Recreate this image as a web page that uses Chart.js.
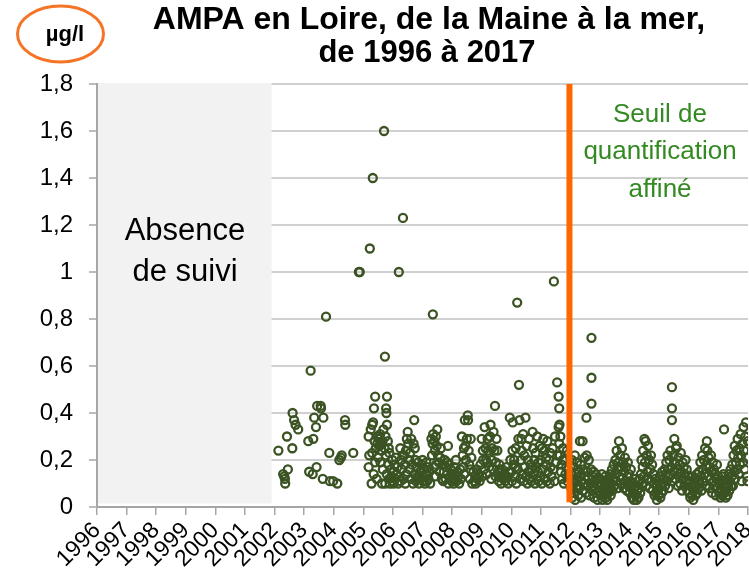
<!DOCTYPE html>
<html lang="fr">
<head>
<meta charset="utf-8">
<title>AMPA en Loire, de la Maine à la mer, de 1996 à 2017</title>
<script src="https://cdn.jsdelivr.net/npm/chart.js@4.4.1/dist/chart.umd.min.js"></script>
<style>
  html, body { margin: 0; padding: 0; background: #ffffff; }
  #wrap { width: 749px; height: 574px; }
  canvas { display: block; }
</style>
</head>
<body>
<div id="wrap"><canvas id="chart" width="749" height="574"></canvas></div>
<script>
// AMPA concentrations (µg/l) in the Loire between the Maine and the sea.
// Each sample is [date as decimal year, concentration].
const samples2002to2005 = [
  [2002.13,0.24],[2002.29,0.14],[2002.33,0.13],[2002.35,0.12],[2002.36,0.10],[2002.45,0.16],
  [2002.42,0.30],[2002.60,0.25],[2002.61,0.40],[2002.66,0.37],[2002.71,0.35],[2002.80,0.33],
  [2003.14,0.28],[2003.17,0.15],[2003.22,0.58],[2003.29,0.14],[2003.31,0.29],[2003.34,0.38],
  [2003.40,0.34],[2003.42,0.17],[2003.44,0.43],[2003.56,0.43],[2003.57,0.42],[2003.63,0.12],
  [2003.65,0.38],[2003.74,0.81],[2003.85,0.23],[2003.87,0.11],[2003.98,0.11],[2004.12,0.10],
  [2004.19,0.20],[2004.24,0.21],[2004.27,0.22],[2004.38,0.37],[2004.39,0.35],[2004.66,0.23],
  [2004.85,1.0],[2004.88,1.0],[2005.22,1.1],[2005.32,1.4]
];

const samples2005to2008 = [
  [2005.18,0.30],[2005.20,0.22],[2005.18,0.17],[2005.25,0.33],[2005.28,0.10],[2005.30,0.35],[2005.30,0.23],
  [2005.33,0.36],[2005.36,0.42],[2005.40,0.47],[2005.38,0.28],[2005.42,0.25],[2005.35,0.14],[2005.40,0.19],
  [2005.45,0.12],[2005.47,0.27],[2005.48,0.30],[2005.50,0.21],
  [2005.52,0.29],[2005.55,0.26],[2005.57,0.31],[2005.60,0.27],[2005.62,0.24],[2005.65,0.28],[2005.58,0.19],
  [2005.63,0.10],[2005.66,0.16],[2005.68,0.33],[2005.70,1.6],[2005.73,0.64],[2005.72,0.25],[2005.75,0.30],
  [2005.77,0.42],[2005.78,0.40],[2005.76,0.22],[2005.80,0.47],[2005.80,0.35],[2005.74,0.10],[2005.79,0.14],
  [2005.83,0.28],[2005.85,0.18],[2005.86,0.25],[2005.87,0.12],[2005.90,0.10],[2005.93,0.16],[2005.95,0.13],
  [2005.98,0.20],[2006.00,0.11],[2006.03,0.15],[2006.05,0.18],[2006.08,0.12],[2005.88,0.23],[2006.02,0.10],
  [2006.10,0.21],[2006.12,0.14],[2006.15,0.17],[2006.18,0.10],[2006.20,1.0],[2006.22,0.13],[2006.25,0.25],
  [2006.26,0.11],[2006.28,0.20],[2006.30,0.16],[2006.34,1.23],[2006.33,0.22],[2006.36,0.12],[2006.38,0.22],
  [2006.40,0.18],[2006.42,0.10],[2006.44,0.24],[2006.45,0.14],[2006.47,0.29],[2006.50,0.32],
  [2006.52,0.27],[2006.55,0.20],[2006.57,0.16],[2006.58,0.23],[2006.60,0.12],[2006.62,0.29],[2006.65,0.18],
  [2006.68,0.10],[2006.70,0.27],[2006.72,0.37],[2006.73,0.14],[2006.74,0.25],[2006.76,0.20],[2006.78,0.11],
  [2006.80,0.17],[2006.83,0.13],[2006.85,0.19],[2006.88,0.10],[2006.90,0.13],
  [2006.92,0.15],[2006.95,0.12],[2006.98,0.18],[2007.00,0.20],[2007.03,0.13],[2007.04,0.11],[2007.06,0.16],
  [2007.08,0.10],[2007.10,0.14],[2007.13,0.19],[2007.15,0.11],[2007.16,0.14],[2007.18,0.17],[2007.20,0.12],
  [2007.23,0.15],[2007.26,0.10],
  [2007.30,0.29],[2007.32,0.22],[2007.34,0.27],[2007.35,0.82],[2007.36,0.31],[2007.40,0.28],[2007.42,0.24],
  [2007.45,0.30],[2007.46,0.18],[2007.48,0.26],[2007.50,0.33],[2007.52,0.22],[2007.40,0.17],[2007.44,0.13],
  [2007.55,0.19],[2007.58,0.15],[2007.60,0.21],[2007.62,0.25],[2007.65,0.12],[2007.68,0.18],[2007.70,0.11],
  [2007.72,0.15],[2007.75,0.20],[2007.78,0.12],[2007.80,0.17],[2007.83,0.14],[2007.84,0.19],[2007.86,0.26],
  [2007.88,0.10],[2007.90,0.18],[2007.93,0.13],[2007.96,0.16],[2007.99,0.11],
  [2008.00,0.12],[2008.02,0.14],[2008.05,0.10],[2008.08,0.17],[2008.10,0.12],[2008.12,0.14],[2008.13,0.20],
  [2008.15,0.11],[2008.18,0.15],[2008.20,0.13],[2008.24,0.10],[2008.27,0.16]
];

const samples2008to2012 = [
  [2008.30,0.12],[2008.33,0.30],[2008.36,0.22],[2008.38,0.17],[2008.40,0.25],[2008.41,0.14],[2008.43,0.37],
  [2008.45,0.26],[2008.47,0.20],[2008.50,0.29],[2008.53,0.39],[2008.54,0.37],[2008.56,0.24],[2008.58,0.18],
  [2008.60,0.12],[2008.62,0.16],[2008.63,0.29],[2008.65,0.21],[2008.68,0.10],
  [2008.72,0.15],[2008.75,0.11],[2008.78,0.13],[2008.80,0.10],[2008.83,0.16],[2008.86,0.12],[2008.88,0.13],
  [2008.90,0.14],[2008.93,0.11],[2008.96,0.18],[2009.00,0.29],[2009.02,0.13],[2009.04,0.24],[2009.05,0.20],
  [2009.08,0.16],[2009.10,0.34],
  [2009.13,0.25],[2009.15,0.20],[2009.17,0.14],[2009.18,0.19],[2009.20,0.29],[2009.22,0.24],[2009.25,0.17],
  [2009.28,0.30],[2009.30,0.35],[2009.32,0.12],[2009.34,0.20],[2009.35,0.25],[2009.38,0.16],[2009.40,0.32],
  [2009.43,0.24],[2009.45,0.43],[2009.47,0.13],[2009.48,0.19],[2009.50,0.29],
  [2009.53,0.24],[2009.55,0.15],[2009.58,0.11],[2009.60,0.18],[2009.62,0.16],[2009.63,0.13],[2009.66,0.10],
  [2009.70,0.16],[2009.73,0.12],[2009.76,0.14],[2009.78,0.13],[2009.80,0.11],[2009.83,0.17],[2009.86,0.13],
  [2009.90,0.10],[2009.92,0.15],
  [2009.95,0.38],[2009.97,0.20],[2010.00,0.15],[2010.02,0.11],[2010.04,0.24],[2010.05,0.36],[2010.07,0.18],
  [2010.10,0.20],[2010.12,0.13],[2010.14,0.17],[2010.15,0.25],[2010.17,0.10],[2010.20,0.87],[2010.22,0.16],
  [2010.24,0.29],[2010.26,0.52],[2010.28,0.37],[2010.30,0.12],
  [2010.33,0.20],[2010.34,0.29],[2010.35,0.24],[2010.38,0.14],[2010.40,0.31],[2010.42,0.11],[2010.44,0.22],
  [2010.45,0.17],[2010.48,0.38],[2010.50,0.13],[2010.52,0.26],[2010.55,0.10],[2010.56,0.20],[2010.58,0.15],
  [2010.60,0.29],[2010.62,0.12],[2010.65,0.18],[2010.68,0.11],[2010.70,0.16],
  [2010.72,0.32],[2010.74,0.25],[2010.76,0.14],[2010.78,0.20],[2010.80,0.10],[2010.82,0.23],[2010.83,0.17],
  [2010.86,0.12],[2010.88,0.30],[2010.90,0.15],[2010.92,0.19],[2010.93,0.11],[2010.96,0.26],[2010.98,0.13],
  [2011.00,0.20],[2011.03,0.10],[2011.04,0.25],[2011.06,0.16],[2011.08,0.29],
  [2011.12,0.24],[2011.14,0.12],[2011.17,0.18],[2011.18,0.21],[2011.20,0.11],[2011.22,0.28],[2011.25,0.15],
  [2011.28,0.20],[2011.30,0.10],[2011.32,0.23],[2011.33,0.17],[2011.36,0.13],[2011.40,0.25],[2011.42,0.16],
  [2011.44,0.96],[2011.46,0.11],[2011.48,0.30],[2011.50,0.19],[2011.55,0.53],[2011.56,0.22],[2011.60,0.47],
  [2011.62,0.42],[2011.63,0.35],[2011.60,0.34],[2011.62,0.27],[2011.64,0.22],[2011.66,0.30],[2011.68,0.15],
  [2011.70,0.18],[2011.72,0.12],[2011.74,0.20],[2011.75,0.25],[2011.78,0.10],[2011.80,0.20],[2011.83,0.14],
  [2011.86,0.17],[2011.88,0.24],[2011.90,0.11],[2011.93,0.16],[2011.96,0.13]
];

const samples2012to2015 = [
  [2012.02,0.14],[2012.03,0.08],[2012.05,0.20],[2012.06,0.04],[2012.08,0.12],[2012.10,0.17],[2012.11,0.06],
  [2012.13,0.10],[2012.15,0.22],[2012.16,0.03],[2012.18,0.14],[2012.20,0.08],[2012.22,0.19],[2012.23,0.11],
  [2012.25,0.16],[2012.26,0.05],[2012.28,0.15],[2012.32,0.28],[2012.31,0.09],[2012.33,0.13],[2012.35,0.18],
  [2012.36,0.04],[2012.38,0.11],[2012.41,0.28],[2012.42,0.07],[2012.44,0.16],[2012.46,0.10],[2012.48,0.21],
  [2012.50,0.13],[2012.52,0.06],[2012.54,0.38],[2012.55,0.22],[2012.57,0.09],[2012.58,0.15],[2012.60,0.12],
  [2012.62,0.20],[2012.64,0.05],[2012.71,0.55],[2012.71,0.44],[2012.71,0.72],[2012.68,0.10],[2012.70,0.16],
  [2012.72,0.07],[2012.74,0.13],[2012.76,0.09],[2012.78,0.15],[2012.80,0.04],[2012.82,0.11],[2012.84,0.08],
  [2012.86,0.14],[2012.88,0.06],[2012.90,0.10],[2012.92,0.03],[2012.94,0.12],[2012.96,0.07],[2012.98,0.09],
  [2013.00,0.12],[2013.02,0.05],[2013.04,0.09],[2013.06,0.14],[2013.08,0.03],[2013.10,0.07],[2013.12,0.11],
  [2013.14,0.05],[2013.16,0.09],[2013.18,0.13],[2013.20,0.04],[2013.22,0.08],[2013.24,0.03],[2013.26,0.10],
  [2013.28,0.06],[2013.30,0.12],[2013.32,0.08],[2013.34,0.14],[2013.36,0.05],[2013.38,0.10],[2013.40,0.16],
  [2013.42,0.07],[2013.44,0.12],[2013.46,0.18],[2013.48,0.09],
  [2013.50,0.14],[2013.52,0.20],[2013.54,0.11],[2013.56,0.24],[2013.58,0.16],[2013.60,0.08],[2013.62,0.19],
  [2013.64,0.28],[2013.66,0.13],[2013.68,0.22],[2013.70,0.10],[2013.72,0.17],[2013.74,0.25],[2013.76,0.12],
  [2013.78,0.19],[2013.80,0.08],[2013.82,0.15],[2013.84,0.21],[2013.86,0.11],[2013.88,0.17],[2013.90,0.07],
  [2013.92,0.13],[2013.94,0.19],[2013.96,0.09],[2013.98,0.14],[2014.00,0.06],[2014.02,0.11],[2014.04,0.16],
  [2014.06,0.08],
  [2014.08,0.04],[2014.10,0.10],[2014.12,0.06],[2014.14,0.03],[2014.16,0.08],[2014.18,0.12],[2014.20,0.05],
  [2014.22,0.09],[2014.24,0.03],[2014.26,0.07],[2014.28,0.11],[2014.30,0.04],[2014.32,0.08],[2014.34,0.12],
  [2014.36,0.06],[2014.38,0.14],[2014.40,0.20],[2014.42,0.10],[2014.44,0.17],[2014.46,0.24],[2014.48,0.13],
  [2014.50,0.29],[2014.52,0.19],[2014.54,0.28],[2014.56,0.09],[2014.58,0.22],[2014.60,0.15],[2014.62,0.26],
  [2014.64,0.12],[2014.66,0.20],[2014.68,0.08],[2014.70,0.16],[2014.72,0.22],[2014.74,0.11],[2014.76,0.18],
  [2014.78,0.07],[2014.80,0.14],[2014.82,0.10],[2014.84,0.05],
  [2014.86,0.12],[2014.88,0.06],[2014.90,0.09],[2014.92,0.03],[2014.94,0.07],[2014.96,0.11],[2014.98,0.05]
];

const samples2015to2018 = [
  [2015.00,0.08],[2015.02,0.13],[2015.04,0.04],[2015.06,0.09],[2015.08,0.06],[2015.10,0.15],[2015.12,0.10],
  [2015.14,0.07],[2015.16,0.12],[2015.18,0.16],
  [2015.20,0.09],[2015.22,0.14],[2015.24,0.19],[2015.26,0.11],[2015.28,0.22],[2015.30,0.16],[2015.32,0.08],
  [2015.34,0.20],[2015.36,0.13],[2015.38,0.24],[2015.40,0.17],[2015.43,0.51],[2015.43,0.42],[2015.43,0.37],
  [2015.45,0.11],[2015.47,0.22],[2015.49,0.15],[2015.51,0.29],[2015.53,0.19],[2015.55,0.12],[2015.57,0.25],
  [2015.59,0.26],[2015.61,0.16],[2015.63,0.09],[2015.65,0.21],[2015.67,0.14],[2015.69,0.18],[2015.71,0.10],
  [2015.73,0.23],[2015.75,0.15],[2015.77,0.07],[2015.79,0.19],[2015.81,0.12],[2015.83,0.17],[2015.85,0.09],
  [2015.87,0.14],[2015.89,0.20],[2015.91,0.11],[2015.93,0.16],[2015.95,0.07],[2015.97,0.13],[2015.99,0.10],
  [2016.01,0.06],[2016.03,0.11],[2016.05,0.04],[2016.07,0.09],[2016.09,0.13],[2016.11,0.05],[2016.13,0.08],
  [2016.15,0.03],[2016.17,0.10],[2016.19,0.07],[2016.21,0.12],[2016.23,0.05],[2016.25,0.09],[2016.27,0.14],
  [2016.29,0.06],[2016.31,0.11],[2016.33,0.08],
  [2016.35,0.15],[2016.37,0.10],[2016.39,0.19],[2016.41,0.13],[2016.43,0.07],[2016.45,0.22],[2016.47,0.16],
  [2016.49,0.11],[2016.51,0.20],[2016.53,0.14],[2016.55,0.25],[2016.57,0.09],[2016.59,0.18],[2016.61,0.28],
  [2016.63,0.24],[2016.65,0.13],[2016.67,0.21],[2016.69,0.08],[2016.71,0.17],[2016.73,0.12],[2016.75,0.22],
  [2016.77,0.15],[2016.79,0.06],[2016.81,0.19],[2016.83,0.11],[2016.85,0.16],[2016.87,0.09],[2016.89,0.14],
  [2016.91,0.05],[2016.93,0.12],[2016.95,0.18],[2016.97,0.08],[2016.99,0.13],[2017.01,0.10],[2017.03,0.06],
  [2017.05,0.11],[2017.07,0.04],[2017.09,0.08],[2017.11,0.13],[2017.13,0.05],[2017.15,0.09],[2017.17,0.14],
  [2017.19,0.33],[2017.21,0.06],[2017.23,0.10],[2017.25,0.04],[2017.27,0.08],[2017.29,0.12],[2017.31,0.05],
  [2017.33,0.09],[2017.35,0.14],[2017.37,0.07],[2017.39,0.11],[2017.41,0.16],[2017.43,0.09],
  [2017.45,0.13],[2017.47,0.18],[2017.49,0.09],[2017.51,0.22],[2017.53,0.15],[2017.55,0.26],[2017.57,0.12],
  [2017.59,0.19],[2017.61,0.24],[2017.63,0.16],[2017.65,0.29],[2017.67,0.21],[2017.69,0.14],[2017.71,0.25],
  [2017.73,0.18],[2017.75,0.31],[2017.77,0.22],[2017.79,0.11],[2017.81,0.27],[2017.83,0.19],[2017.85,0.34],
  [2017.87,0.24],[2017.89,0.16],[2017.91,0.30],[2017.93,0.36],[2017.95,0.21],[2017.97,0.13],[2017.98,0.11],
  [2017.99,0.28]
];

// Axis ticks
const yearTicks = [1996,1997,1998,1999,2000,2001,2002,2003,2004,2005,2006,2007,
                   2008,2009,2010,2011,2012,2013,2014,2015,2016,2017,2018];
const yTickValues = [0, 0.2, 0.4, 0.6, 0.8, 1, 1.2, 1.4, 1.6, 1.8];
const yTickLabels = ['0','0,2','0,4','0,6','0,8','1','1,2','1,4','1,6','1,8'];

// Period without monitoring, and date of the finer quantification threshold
const noMonitoringSpan = [1996, 2001.9];
const thresholdChangeYear = 2012;

const allSamples = [].concat(samples2002to2005, samples2005to2008, samples2008to2012,
                             samples2012to2015, samples2015to2018)
                     .map(([x, y]) => ({ x, y }));

const FONT = '"Liberation Sans", Arial, Helvetica, sans-serif';

const annotations = {
  id: 'annotations',
  beforeDatasetsDraw(chart) {
    const { ctx, scales: { x, y } } = chart;
    ctx.save();
    ctx.fillStyle = '#f2f2f2';
    const x0 = x.getPixelForValue(noMonitoringSpan[0]) + 1;
    const x1 = x.getPixelForValue(noMonitoringSpan[1]);
    const yTop = y.getPixelForValue(1.8) - 1;
    const yBot = y.getPixelForValue(0.015);
    ctx.fillRect(x0, yTop, x1 - x0, yBot - yTop);
    ctx.restore();
  },
  afterDatasetsDraw(chart) {
    const { ctx, scales: { x, y } } = chart;
    ctx.save();
    const xl = x.getPixelForValue(thresholdChangeYear) - 1;
    ctx.strokeStyle = '#ff6600';
    ctx.lineWidth = 6;
    ctx.beginPath();
    ctx.moveTo(xl, y.getPixelForValue(1.8));
    ctx.lineTo(xl, y.getPixelForValue(0.02));
    ctx.stroke();
    ctx.restore();
  },
  afterDraw(chart) {
    const { ctx } = chart;
    ctx.save();
    // Title
    ctx.fillStyle = '#000000';
    ctx.textAlign = 'center';
    ctx.textBaseline = 'alphabetic';
    ctx.font = 'bold 32px ' + FONT;
    ctx.fillText('AMPA en Loire, de la Maine à la mer,', 429, 29);
    ctx.font = 'bold 31px ' + FONT;
    ctx.fillText('de 1996 à 2017', 427, 62);

    // Unit in its orange ring
    ctx.strokeStyle = '#f57426';
    ctx.lineWidth = 3;
    ctx.beginPath();
    ctx.ellipse(60.5, 34, 43, 28, 0, 0, Math.PI * 2);
    ctx.stroke();
    ctx.font = 'bold 22px ' + FONT;
    ctx.fillText('µg/l', 65, 41);

    // Notes on the plot
    ctx.font = '31px ' + FONT;
    ctx.fillText('Absence', 185, 240);
    ctx.fillText('de suivi', 185, 281);

    ctx.fillStyle = '#338a22';
    ctx.font = '26px ' + FONT;
    ctx.fillText('Seuil de', 660, 122);
    ctx.fillText('quantification', 660, 159);
    ctx.fillText('affiné', 660, 197);
    ctx.restore();
  }
};

new Chart(document.getElementById('chart'), {
  type: 'scatter',
  data: {
    datasets: [{
      label: 'AMPA (µg/l)',
      data: allSamples,
      showLine: false,
      pointStyle: 'circle',
      pointRadius: 4,
      pointHoverRadius: 4,
      pointBorderWidth: 2.3,
      pointBorderColor: '#3b5323',
      pointBackgroundColor: 'rgba(255,255,255,0)'
    }]
  },
  options: {
    responsive: false,
    animation: false,
    devicePixelRatio: 1,
    layout: { autoPadding: false, padding: { top: 84, right: 1, left: 0, bottom: 0 } },
    plugins: { legend: { display: false }, title: { display: false }, tooltip: { enabled: false } },
    scales: {
      x: {
        type: 'linear',
        min: 1996,
        max: 2018,
        afterBuildTicks(scale) { scale.ticks = yearTicks.map(v => ({ value: v })); },
        afterFit(scale) { scale.height = 67; scale.paddingRight = 0; scale.paddingLeft = 0; },
        ticks: {
          autoSkip: false,
          maxRotation: 45,
          minRotation: 45,
          padding: 2,
          color: '#000000',
          font: { family: FONT, size: 23 },
          callback: v => String(v)
        },
        grid: { drawOnChartArea: false, drawTicks: true, tickLength: 8, color: '#a6a6a6', lineWidth: 1.5 },
        border: { display: true, color: '#a6a6a6', width: 2 }
      },
      y: {
        min: 0,
        max: 1.8,
        afterBuildTicks(scale) { scale.ticks = yTickValues.map(v => ({ value: v })); },
        afterFit(scale) { scale.width = 97; },
        ticks: {
          padding: 16,
          color: '#000000',
          font: { family: FONT, size: 24 },
          callback: (v, i) => yTickLabels[i]
        },
        grid: { color: '#d0d0d0', lineWidth: 2, tickLength: 8, tickColor: '#a6a6a6', tickWidth: 1.5 },
        border: { display: true, color: '#a6a6a6', width: 2 }
      }
    }
  },
  plugins: [annotations]
});
</script>
</body>
</html>
